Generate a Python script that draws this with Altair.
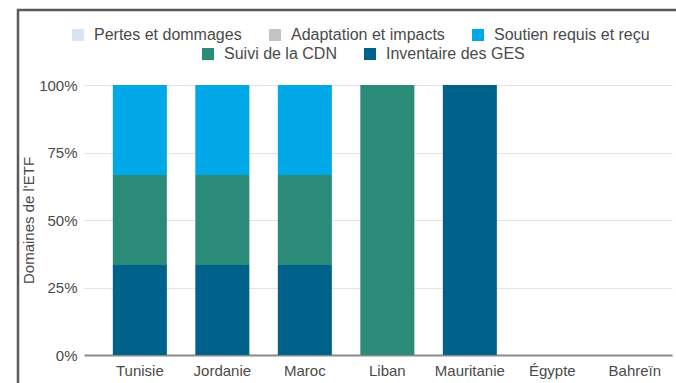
import altair as alt
import pandas as pd

countries = ["Tunisie", "Jordanie", "Maroc", "Liban", "Mauritanie", "Égypte", "Bahreïn"]
series = ["Pertes et dommages", "Adaptation et impacts", "Soutien requis et reçu",
          "Suivi de la CDN", "Inventaire des GES"]
colors = ["#d8e3f4", "#c3c3c3", "#00a8e8", "#2a8c78", "#00628b"]
stack_rank = [4, 3, 2, 1, 0]  # 0 = bottom of the stack

pertes = [0, 0, 0, 0, 0, 0, 0]
adaptation = [0, 0, 0, 0, 0, 0, 0]
soutien = [0.3333, 0.3333, 0.3333, 0, 0, 0, 0]
suivi = [0.3333, 0.3333, 0.3333, 1, 0, 0, 0]
inventaire = [0.3334, 0.3334, 0.3334, 0, 1, 0, 0]

values_by_series = [pertes, adaptation, soutien, suivi, inventaire]
rows = []
for s, r, vals in zip(series, stack_rank, values_by_series):
    for c, v in zip(countries, vals):
        rows.append({"pays": c, "domaine": s, "rang": r, "part": v})
df = pd.DataFrame(rows)

FONT = "Liberation Sans"
TXT = "#4a4a4a"

x_enc = alt.X("pays:N", sort=countries, title=None,
              scale=alt.Scale(paddingInner=0.345, paddingOuter=0.236, align=0.74),
              axis=alt.Axis(labelAngle=0, ticks=False, grid=False, domainColor="#8a8a8a",
                            domainWidth=2, labelPadding=8, labelFontSize=15,
                            labelColor=TXT))
y_enc = alt.Y("y0:Q", scale=alt.Scale(domain=[0, 1]),
              axis=alt.Axis(values=[0, 0.25, 0.5, 0.75, 1], format=".0%",
                            title="Domaines de l'ETF", titleFontSize=15,
                            titleFontWeight="normal", titleColor=TXT,
                            titlePadding=2, labelPadding=7, ticks=False, domain=False,
                            gridColor="#e4e4e4", labelFontSize=15, labelColor=TXT))

base = alt.Chart(df).transform_stack(
    stack="part", groupby=["pays"], as_=["y0", "y1"],
    sort=[alt.SortField(field="rang", order="ascending")]
)

legend_common = dict(orient="none", direction="horizontal", title=None,
                     symbolType="square", symbolSize=144, symbolStrokeWidth=0,
                     labelFontSize=16, labelColor=TXT, labelFont=FONT,
                     columnPadding=25, labelOffset=8)

layer_a = base.transform_filter(
    alt.FieldOneOfPredicate(field="domaine", oneOf=series[:3])
).mark_bar().encode(
    x=x_enc, y=y_enc, y2="y1:Q",
    color=alt.Color("domaine:N", scale=alt.Scale(domain=series[:3], range=colors[:3]),
                    legend=alt.Legend(legendX=-14, legendY=-58, **legend_common)),
)

layer_b = base.transform_filter(
    alt.FieldOneOfPredicate(field="domaine", oneOf=series[3:])
).mark_bar().encode(
    x=x_enc, y=y_enc, y2="y1:Q",
    fill=alt.Fill("domaine:N", scale=alt.Scale(domain=series[3:], range=colors[3:]),
                  legend=alt.Legend(legendX=116, legendY=-39, **legend_common)),
)

frame = alt.Chart(alt.Data(values=[{"a": 1}])).mark_rect(
    filled=False, stroke="#5a5a5a", strokeWidth=2.5
).encode(x=alt.value(-66), y=alt.value(-75), x2=alt.value(900), y2=alt.value(700))

chart = alt.layer(layer_a, layer_b, frame).properties(
    width=588, height=270,
    padding={"left": 84, "top": 85, "right": 4, "bottom": 28},
    autosize=alt.AutoSizeParams(type="none"),
).configure(font=FONT).configure_view(stroke=None)

chart.save("out.html", embed_options={"renderer": "svg", "actions": False})
